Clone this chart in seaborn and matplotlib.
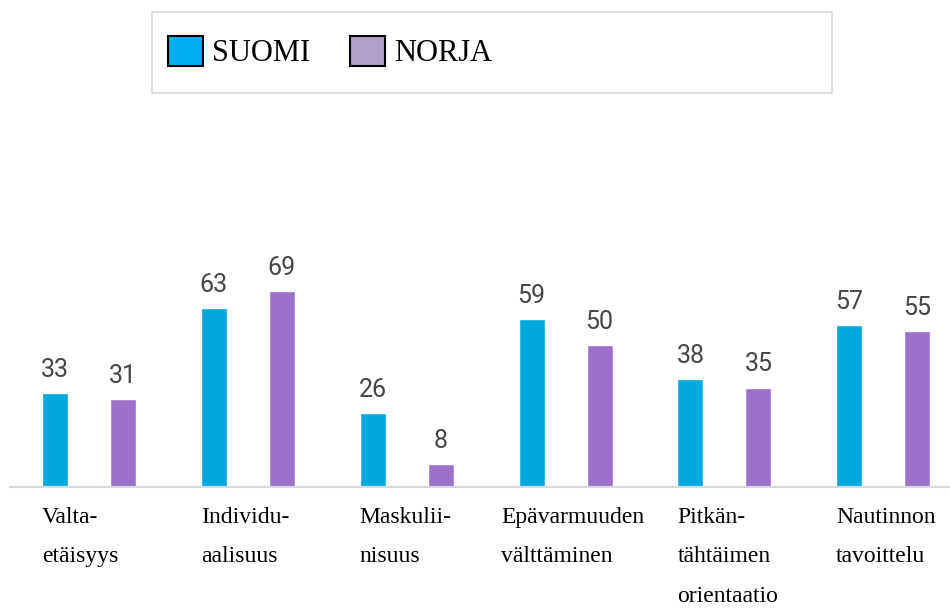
"""
Hofstede-ulottuvuudet: Suomi vs. Norja, ryhmitelty pylväskaavio.
"""

import matplotlib

matplotlib.use("Agg")
import matplotlib.pyplot as plt
import matplotlib.transforms as mtransforms
from matplotlib.patches import Patch, Rectangle
import pandas as pd
import seaborn as sns

# --- data -------------------------------------------------------------------
categories = [
    "Valta-\netäisyys",
    "Individu-\naalisuus",
    "Maskulii-\nnisuus",
    "Epävarmuuden\nvälttäminen",
    "Pitkän-\ntähtäimen\norientaatio",
    "Nautinnon\ntavoittelu",
]
countries = ["SUOMI", "NORJA"]
suomi = [33, 63, 26, 59, 38, 57]
norja = [31, 69, 8, 50, 35, 55]

bar_colors = {"SUOMI": "#00A8DE", "NORJA": "#9D70C9"}
legend_colors = {"SUOMI": "#00B0F0", "NORJA": "#B1A0C7"}

df = pd.DataFrame(
    {
        "category": categories * 2,
        "country": ["SUOMI"] * len(suomi) + ["NORJA"] * len(norja),
        "value": suomi + norja,
    }
)

# --- figure -----------------------------------------------------------------
sns.set_style("white")
fig = plt.figure(figsize=(9.5, 6.1), dpi=100)
ax = fig.add_axes([0.0, 123 / 610, 1.0, 284 / 610])

sns.barplot(
    data=df,
    x="category",
    y="value",
    hue="country",
    hue_order=countries,
    order=categories,
    palette=bar_colors,
    width=0.856,
    gap=0.617,
    saturation=1,
    legend=False,
    ax=ax,
)

ax.set_xlim(-0.56, 5.42)
ax.set_ylim(0, 100)
ax.set_xlabel("")
ax.set_ylabel("")
ax.set_xticks([])
ax.set_yticks([])
for side in ["top", "right", "left"]:
    ax.spines[side].set_visible(False)
ax.spines["bottom"].set_color("#d9d9d9")
ax.spines["bottom"].set_linewidth(1.6)
ax.spines["bottom"].set_bounds(-0.50, 5.42)

# value labels above bars
for container in ax.containers:
    ax.bar_label(
        container,
        padding=8,
        fontsize=18,
        color="#454545",
        family="Roboto",
    )

# category labels below the axis, left-aligned with the first bar
trans = mtransforms.blended_transform_factory(ax.transData, fig.transFigure)
nudge = {3: -0.11}
for i, label in enumerate(categories):
    ax.text(
        i - 0.296 + nudge.get(i, 0),
        1 - 507 / 610,
        label,
        transform=trans,
        ha="left",
        va="top",
        fontsize=17,
        family="Liberation Serif",
        linespacing=2.15,
        color="black",
    )

# legend box
fig.patches.append(
    Rectangle(
        (152 / 950, 1 - 93 / 610),
        680 / 950,
        81 / 610,
        transform=fig.transFigure,
        facecolor="white",
        edgecolor="#d9d9d9",
        linewidth=1.2,
    )
)
handles = [
    Patch(facecolor=legend_colors[c], edgecolor="black", linewidth=1.5, label=c)
    for c in countries
]
leg = fig.legend(
    handles=handles,
    loc="center left",
    bbox_to_anchor=(168 / 950, 1 - 52 / 610),
    ncol=2,
    frameon=False,
    prop={"family": "Liberation Serif", "size": 22},
    handlelength=1.15,
    handleheight=1.15,
    handletextpad=0.3,
    columnspacing=1.3,
    borderpad=0,
    borderaxespad=0,
)
for t in leg.get_texts():
    t.set_color("black")

fig.savefig("out.png", dpi=100)
